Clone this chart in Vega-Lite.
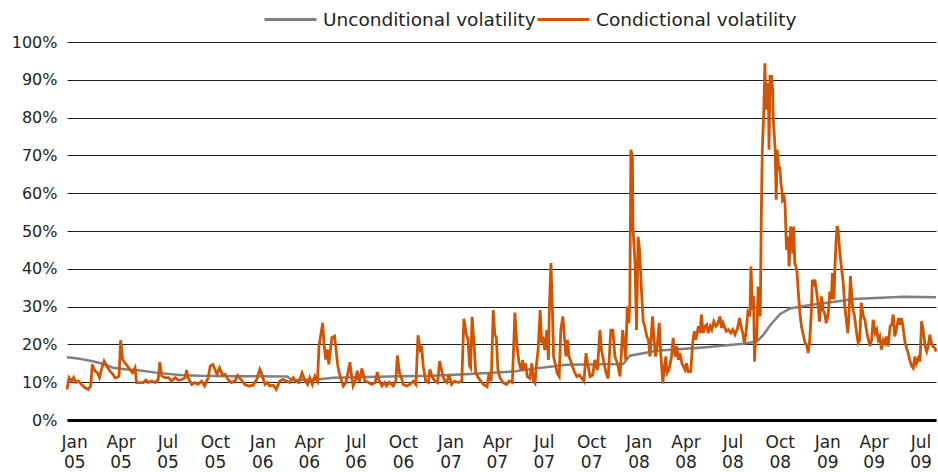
{
  "$schema": "https://vega.github.io/schema/vega-lite/v6.json",
  "width": 869,
  "height": 378,
  "autosize": {"type": "none"},
  "padding": {"left": 67, "top": 42, "right": 2, "bottom": 52},
  "background": "white",
  "config": {"view": {"stroke": null}, "font": "DejaVu Sans"},
  "datasets": {
    "uncond": [
      {"date": "2005-01-01", "vol": 16.6}, {"date": "2005-01-26", "vol": 16.2}, {"date": "2005-02-24", "vol": 15.4},
      {"date": "2005-03-16", "vol": 14.7}, {"date": "2005-03-31", "vol": 13.8}, {"date": "2005-04-24", "vol": 13.4},
      {"date": "2005-05-23", "vol": 13.1}, {"date": "2005-06-30", "vol": 12.4}, {"date": "2005-08-08", "vol": 11.9},
      {"date": "2005-09-16", "vol": 11.7}, {"date": "2005-11-19", "vol": 11.6}, {"date": "2006-03-04", "vol": 11.5},
      {"date": "2006-03-14", "vol": 10.6}, {"date": "2006-05-01", "vol": 10.7}, {"date": "2006-06-01", "vol": 11.2},
      {"date": "2006-08-06", "vol": 11.4}, {"date": "2006-10-09", "vol": 11.6}, {"date": "2006-12-12", "vol": 11.7},
      {"date": "2007-02-22", "vol": 12.2}, {"date": "2007-05-16", "vol": 12.8}, {"date": "2007-07-02", "vol": 13.7},
      {"date": "2007-08-29", "vol": 14.6}, {"date": "2007-12-16", "vol": 14.8}, {"date": "2007-12-29", "vol": 17.0},
      {"date": "2008-02-19", "vol": 18.3}, {"date": "2008-05-19", "vol": 19.2}, {"date": "2008-08-05", "vol": 20.2},
      {"date": "2008-09-01", "vol": 20.8}, {"date": "2008-09-13", "vol": 22.5}, {"date": "2008-09-26", "vol": 25.0},
      {"date": "2008-10-15", "vol": 28.0}, {"date": "2008-11-04", "vol": 29.5}, {"date": "2008-12-07", "vol": 30.3},
      {"date": "2009-01-15", "vol": 31.0}, {"date": "2009-02-09", "vol": 31.5}, {"date": "2009-03-06", "vol": 32.0},
      {"date": "2009-05-11", "vol": 32.4}, {"date": "2009-06-11", "vol": 32.6}, {"date": "2009-08-14", "vol": 32.5}
    ],
    "cond": [
      {"date": "2005-01-01", "vol": 8.1}, {"date": "2005-01-05", "vol": 11.2}, {"date": "2005-01-10", "vol": 10.3},
      {"date": "2005-01-14", "vol": 11.2}, {"date": "2005-01-18", "vol": 9.9}, {"date": "2005-01-23", "vol": 10.3},
      {"date": "2005-01-29", "vol": 9.4}, {"date": "2005-02-05", "vol": 8.5}, {"date": "2005-02-11", "vol": 8.1},
      {"date": "2005-02-16", "vol": 9.0}, {"date": "2005-02-19", "vol": 14.7}, {"date": "2005-02-24", "vol": 13.0},
      {"date": "2005-03-01", "vol": 12.5}, {"date": "2005-03-05", "vol": 11.2}, {"date": "2005-03-09", "vol": 13.4},
      {"date": "2005-03-14", "vol": 15.6}, {"date": "2005-03-19", "vol": 14.3}, {"date": "2005-03-25", "vol": 13.0},
      {"date": "2005-03-31", "vol": 12.1}, {"date": "2005-04-04", "vol": 11.2}, {"date": "2005-04-07", "vol": 11.2},
      {"date": "2005-04-12", "vol": 11.6}, {"date": "2005-04-15", "vol": 21.1}, {"date": "2005-04-19", "vol": 16.0},
      {"date": "2005-04-23", "vol": 15.2}, {"date": "2005-04-28", "vol": 14.3}, {"date": "2005-05-03", "vol": 13.4},
      {"date": "2005-05-08", "vol": 12.5}, {"date": "2005-05-13", "vol": 13.8}, {"date": "2005-05-16", "vol": 9.9},
      {"date": "2005-05-22", "vol": 9.9}, {"date": "2005-05-29", "vol": 9.9}, {"date": "2005-06-03", "vol": 10.6},
      {"date": "2005-06-08", "vol": 9.9}, {"date": "2005-06-14", "vol": 10.3}, {"date": "2005-06-21", "vol": 9.9},
      {"date": "2005-06-27", "vol": 10.7}, {"date": "2005-06-30", "vol": 15.3}, {"date": "2005-07-04", "vol": 11.6},
      {"date": "2005-07-10", "vol": 11.2}, {"date": "2005-07-17", "vol": 11.2}, {"date": "2005-07-23", "vol": 10.3},
      {"date": "2005-07-30", "vol": 11.2}, {"date": "2005-08-05", "vol": 10.5}, {"date": "2005-08-12", "vol": 10.7},
      {"date": "2005-08-18", "vol": 11.2}, {"date": "2005-08-21", "vol": 13.2}, {"date": "2005-08-24", "vol": 11.2},
      {"date": "2005-08-31", "vol": 9.4}, {"date": "2005-09-06", "vol": 9.9}, {"date": "2005-09-12", "vol": 9.4},
      {"date": "2005-09-19", "vol": 10.3}, {"date": "2005-09-25", "vol": 9.0}, {"date": "2005-10-02", "vol": 11.2},
      {"date": "2005-10-06", "vol": 14.3}, {"date": "2005-10-11", "vol": 14.7}, {"date": "2005-10-15", "vol": 13.4},
      {"date": "2005-10-19", "vol": 12.1}, {"date": "2005-10-24", "vol": 13.8}, {"date": "2005-10-30", "vol": 11.8},
      {"date": "2005-11-04", "vol": 12.1}, {"date": "2005-11-10", "vol": 10.6}, {"date": "2005-11-16", "vol": 9.9},
      {"date": "2005-11-23", "vol": 10.3}, {"date": "2005-11-28", "vol": 11.8}, {"date": "2005-12-05", "vol": 10.6},
      {"date": "2005-12-12", "vol": 9.4}, {"date": "2005-12-20", "vol": 9.0}, {"date": "2005-12-28", "vol": 9.2},
      {"date": "2006-01-04", "vol": 10.7}, {"date": "2006-01-10", "vol": 13.4}, {"date": "2006-01-14", "vol": 12.1},
      {"date": "2006-01-20", "vol": 9.4}, {"date": "2006-01-25", "vol": 9.9}, {"date": "2006-01-29", "vol": 9.0},
      {"date": "2006-02-05", "vol": 9.2}, {"date": "2006-02-11", "vol": 8.1}, {"date": "2006-02-18", "vol": 10.3},
      {"date": "2006-02-24", "vol": 10.7}, {"date": "2006-03-03", "vol": 10.3}, {"date": "2006-03-09", "vol": 9.9},
      {"date": "2006-03-16", "vol": 11.2}, {"date": "2006-03-20", "vol": 10.3}, {"date": "2006-03-27", "vol": 9.9},
      {"date": "2006-04-02", "vol": 12.5}, {"date": "2006-04-07", "vol": 10.7}, {"date": "2006-04-13", "vol": 9.4},
      {"date": "2006-04-17", "vol": 11.2}, {"date": "2006-04-22", "vol": 9.4}, {"date": "2006-04-27", "vol": 11.6},
      {"date": "2006-05-02", "vol": 10.3}, {"date": "2006-05-05", "vol": 19.6}, {"date": "2006-05-08", "vol": 22.2},
      {"date": "2006-05-12", "vol": 25.7}, {"date": "2006-05-15", "vol": 19.6}, {"date": "2006-05-18", "vol": 16.0},
      {"date": "2006-05-21", "vol": 18.7}, {"date": "2006-05-24", "vol": 14.7}, {"date": "2006-05-28", "vol": 19.6},
      {"date": "2006-05-30", "vol": 21.8}, {"date": "2006-06-04", "vol": 22.2}, {"date": "2006-06-07", "vol": 18.7},
      {"date": "2006-06-10", "vol": 14.7}, {"date": "2006-06-13", "vol": 12.5}, {"date": "2006-06-18", "vol": 10.3},
      {"date": "2006-06-21", "vol": 9.0}, {"date": "2006-06-26", "vol": 9.9}, {"date": "2006-06-30", "vol": 12.5},
      {"date": "2006-07-04", "vol": 15.3}, {"date": "2006-07-07", "vol": 11.6}, {"date": "2006-07-10", "vol": 9.0},
      {"date": "2006-07-15", "vol": 10.7}, {"date": "2006-07-18", "vol": 13.0}, {"date": "2006-07-22", "vol": 10.0},
      {"date": "2006-07-27", "vol": 13.6}, {"date": "2006-07-30", "vol": 12.1}, {"date": "2006-08-02", "vol": 10.3},
      {"date": "2006-08-09", "vol": 9.9}, {"date": "2006-08-15", "vol": 9.4}, {"date": "2006-08-22", "vol": 9.9},
      {"date": "2006-08-26", "vol": 12.7}, {"date": "2006-08-30", "vol": 10.3}, {"date": "2006-09-04", "vol": 9.0},
      {"date": "2006-09-09", "vol": 9.9}, {"date": "2006-09-13", "vol": 9.0}, {"date": "2006-09-18", "vol": 10.0},
      {"date": "2006-09-26", "vol": 9.0}, {"date": "2006-10-01", "vol": 10.3}, {"date": "2006-10-04", "vol": 17.1},
      {"date": "2006-10-08", "vol": 12.5}, {"date": "2006-10-12", "vol": 11.2}, {"date": "2006-10-15", "vol": 9.4},
      {"date": "2006-10-22", "vol": 9.0}, {"date": "2006-10-28", "vol": 9.4}, {"date": "2006-11-04", "vol": 10.3},
      {"date": "2006-11-09", "vol": 9.4}, {"date": "2006-11-13", "vol": 22.4}, {"date": "2006-11-17", "vol": 18.7},
      {"date": "2006-11-20", "vol": 19.6}, {"date": "2006-11-23", "vol": 14.3}, {"date": "2006-11-28", "vol": 10.3},
      {"date": "2006-12-03", "vol": 9.9}, {"date": "2006-12-06", "vol": 13.4}, {"date": "2006-12-11", "vol": 11.2},
      {"date": "2006-12-16", "vol": 10.3}, {"date": "2006-12-21", "vol": 9.9}, {"date": "2006-12-25", "vol": 15.6},
      {"date": "2006-12-31", "vol": 11.8}, {"date": "2007-01-04", "vol": 10.3}, {"date": "2007-01-08", "vol": 9.9},
      {"date": "2007-01-12", "vol": 12.1}, {"date": "2007-01-17", "vol": 9.4}, {"date": "2007-01-23", "vol": 10.3},
      {"date": "2007-01-30", "vol": 9.9}, {"date": "2007-02-06", "vol": 10.3}, {"date": "2007-02-10", "vol": 26.8},
      {"date": "2007-02-15", "vol": 22.6}, {"date": "2007-02-18", "vol": 21.3}, {"date": "2007-02-21", "vol": 14.3},
      {"date": "2007-02-23", "vol": 13.8}, {"date": "2007-02-26", "vol": 27.3}, {"date": "2007-03-02", "vol": 19.6},
      {"date": "2007-03-05", "vol": 12.5}, {"date": "2007-03-10", "vol": 11.2}, {"date": "2007-03-15", "vol": 10.3},
      {"date": "2007-03-20", "vol": 9.4}, {"date": "2007-03-27", "vol": 8.8}, {"date": "2007-03-31", "vol": 12.5},
      {"date": "2007-04-04", "vol": 10.3}, {"date": "2007-04-08", "vol": 29.1}, {"date": "2007-04-11", "vol": 22.6},
      {"date": "2007-04-14", "vol": 21.8}, {"date": "2007-04-17", "vol": 13.4}, {"date": "2007-04-21", "vol": 11.2},
      {"date": "2007-04-27", "vol": 9.9}, {"date": "2007-05-04", "vol": 9.4}, {"date": "2007-05-09", "vol": 10.3},
      {"date": "2007-05-15", "vol": 9.9}, {"date": "2007-05-20", "vol": 28.4}, {"date": "2007-05-24", "vol": 19.6},
      {"date": "2007-05-28", "vol": 15.2}, {"date": "2007-06-01", "vol": 13.2}, {"date": "2007-06-04", "vol": 15.9},
      {"date": "2007-06-06", "vol": 13.2}, {"date": "2007-06-10", "vol": 15.0}, {"date": "2007-06-13", "vol": 11.5},
      {"date": "2007-06-18", "vol": 11.0}, {"date": "2007-06-22", "vol": 15.0}, {"date": "2007-06-25", "vol": 10.2},
      {"date": "2007-06-28", "vol": 9.7}, {"date": "2007-07-01", "vol": 15.0}, {"date": "2007-07-04", "vol": 18.5},
      {"date": "2007-07-08", "vol": 29.1}, {"date": "2007-07-11", "vol": 20.3}, {"date": "2007-07-14", "vol": 21.2},
      {"date": "2007-07-17", "vol": 18.5}, {"date": "2007-07-21", "vol": 23.8}, {"date": "2007-07-24", "vol": 15.9},
      {"date": "2007-07-26", "vol": 30.0}, {"date": "2007-07-29", "vol": 41.5}, {"date": "2007-08-01", "vol": 28.2},
      {"date": "2007-08-03", "vol": 16.8}, {"date": "2007-08-06", "vol": 15.0}, {"date": "2007-08-10", "vol": 12.4},
      {"date": "2007-08-14", "vol": 11.5}, {"date": "2007-08-17", "vol": 23.8}, {"date": "2007-08-21", "vol": 27.4},
      {"date": "2007-08-24", "vol": 22.1}, {"date": "2007-08-27", "vol": 16.8}, {"date": "2007-08-30", "vol": 21.2},
      {"date": "2007-09-02", "vol": 16.8}, {"date": "2007-09-07", "vol": 15.0}, {"date": "2007-09-11", "vol": 13.2},
      {"date": "2007-09-17", "vol": 11.5}, {"date": "2007-09-22", "vol": 11.9}, {"date": "2007-09-27", "vol": 11.0},
      {"date": "2007-10-01", "vol": 10.2}, {"date": "2007-10-05", "vol": 17.7}, {"date": "2007-10-08", "vol": 15.0},
      {"date": "2007-10-13", "vol": 11.5}, {"date": "2007-10-18", "vol": 11.9}, {"date": "2007-10-22", "vol": 15.9},
      {"date": "2007-10-27", "vol": 13.2}, {"date": "2007-11-01", "vol": 23.8}, {"date": "2007-11-04", "vol": 18.5},
      {"date": "2007-11-09", "vol": 15.0}, {"date": "2007-11-13", "vol": 12.4}, {"date": "2007-11-17", "vol": 11.0},
      {"date": "2007-11-22", "vol": 23.8}, {"date": "2007-11-26", "vol": 23.8}, {"date": "2007-11-30", "vol": 16.8},
      {"date": "2007-12-05", "vol": 15.0}, {"date": "2007-12-10", "vol": 11.5}, {"date": "2007-12-15", "vol": 23.8},
      {"date": "2007-12-18", "vol": 20.3}, {"date": "2007-12-21", "vol": 15.9}, {"date": "2007-12-24", "vol": 30.0},
      {"date": "2007-12-27", "vol": 25.6}, {"date": "2007-12-29", "vol": 30.9}, {"date": "2007-12-31", "vol": 71.5},
      {"date": "2008-01-03", "vol": 69.7}, {"date": "2008-01-04", "vol": 51.2}, {"date": "2008-01-08", "vol": 41.5},
      {"date": "2008-01-11", "vol": 23.8}, {"date": "2008-01-14", "vol": 48.5}, {"date": "2008-01-17", "vol": 45.0},
      {"date": "2008-01-21", "vol": 33.0}, {"date": "2008-01-24", "vol": 26.0}, {"date": "2008-01-27", "vol": 24.8},
      {"date": "2008-01-31", "vol": 22.1}, {"date": "2008-02-03", "vol": 21.2}, {"date": "2008-02-06", "vol": 16.8},
      {"date": "2008-02-11", "vol": 27.4}, {"date": "2008-02-14", "vol": 21.2}, {"date": "2008-02-17", "vol": 16.8},
      {"date": "2008-02-20", "vol": 19.5}, {"date": "2008-02-24", "vol": 25.7}, {"date": "2008-02-27", "vol": 17.7},
      {"date": "2008-03-02", "vol": 9.7}, {"date": "2008-03-05", "vol": 14.2}, {"date": "2008-03-08", "vol": 16.8},
      {"date": "2008-03-10", "vol": 12.4}, {"date": "2008-03-14", "vol": 13.3}, {"date": "2008-03-19", "vol": 16.8},
      {"date": "2008-03-22", "vol": 21.7}, {"date": "2008-03-26", "vol": 16.8}, {"date": "2008-03-29", "vol": 19.5},
      {"date": "2008-04-01", "vol": 15.9}, {"date": "2008-04-04", "vol": 17.7}, {"date": "2008-04-08", "vol": 15.0},
      {"date": "2008-04-11", "vol": 14.2}, {"date": "2008-04-14", "vol": 13.3}, {"date": "2008-04-17", "vol": 15.0},
      {"date": "2008-04-20", "vol": 12.8}, {"date": "2008-04-25", "vol": 12.8}, {"date": "2008-04-29", "vol": 20.4},
      {"date": "2008-05-02", "vol": 23.5}, {"date": "2008-05-05", "vol": 21.2}, {"date": "2008-05-10", "vol": 24.8},
      {"date": "2008-05-13", "vol": 23.0}, {"date": "2008-05-16", "vol": 27.9}, {"date": "2008-05-19", "vol": 23.0},
      {"date": "2008-05-23", "vol": 24.8}, {"date": "2008-05-26", "vol": 25.2}, {"date": "2008-05-29", "vol": 23.0},
      {"date": "2008-06-02", "vol": 24.8}, {"date": "2008-06-05", "vol": 23.9}, {"date": "2008-06-09", "vol": 26.1},
      {"date": "2008-06-13", "vol": 24.8}, {"date": "2008-06-16", "vol": 25.2}, {"date": "2008-06-21", "vol": 27.4},
      {"date": "2008-06-24", "vol": 24.3}, {"date": "2008-06-27", "vol": 25.7}, {"date": "2008-07-03", "vol": 23.5},
      {"date": "2008-07-07", "vol": 23.9}, {"date": "2008-07-12", "vol": 23.0}, {"date": "2008-07-16", "vol": 23.9},
      {"date": "2008-07-20", "vol": 22.6}, {"date": "2008-07-25", "vol": 24.3}, {"date": "2008-07-29", "vol": 27.0},
      {"date": "2008-08-01", "vol": 24.8}, {"date": "2008-08-04", "vol": 23.0}, {"date": "2008-08-07", "vol": 20.4},
      {"date": "2008-08-10", "vol": 22.6}, {"date": "2008-08-14", "vol": 28.5}, {"date": "2008-08-18", "vol": 27.4},
      {"date": "2008-08-20", "vol": 40.6}, {"date": "2008-08-23", "vol": 29.1}, {"date": "2008-08-25", "vol": 32.7},
      {"date": "2008-08-27", "vol": 15.4}, {"date": "2008-08-29", "vol": 22.1}, {"date": "2008-08-31", "vol": 21.2},
      {"date": "2008-09-03", "vol": 35.3}, {"date": "2008-09-05", "vol": 34.4}, {"date": "2008-09-07", "vol": 27.4},
      {"date": "2008-09-09", "vol": 53.8}, {"date": "2008-09-11", "vol": 71.5}, {"date": "2008-09-14", "vol": 82.1},
      {"date": "2008-09-16", "vol": 94.4}, {"date": "2008-09-18", "vol": 82.1}, {"date": "2008-09-20", "vol": 89.1},
      {"date": "2008-09-23", "vol": 85.6}, {"date": "2008-09-24", "vol": 71.5}, {"date": "2008-09-26", "vol": 90.9},
      {"date": "2008-09-29", "vol": 90.9}, {"date": "2008-10-01", "vol": 87.4}, {"date": "2008-10-02", "vol": 80.3},
      {"date": "2008-10-04", "vol": 75.9}, {"date": "2008-10-06", "vol": 71.5}, {"date": "2008-10-08", "vol": 58.3},
      {"date": "2008-10-10", "vol": 71.5}, {"date": "2008-10-13", "vol": 66.2}, {"date": "2008-10-15", "vol": 67.1},
      {"date": "2008-10-17", "vol": 62.7}, {"date": "2008-10-19", "vol": 60.9}, {"date": "2008-10-20", "vol": 58.3},
      {"date": "2008-10-23", "vol": 59.1}, {"date": "2008-10-25", "vol": 57.4}, {"date": "2008-10-28", "vol": 45.0},
      {"date": "2008-10-31", "vol": 48.5}, {"date": "2008-11-02", "vol": 40.6}, {"date": "2008-11-05", "vol": 51.2},
      {"date": "2008-11-07", "vol": 48.5}, {"date": "2008-11-09", "vol": 44.1}, {"date": "2008-11-11", "vol": 51.2},
      {"date": "2008-11-13", "vol": 41.5}, {"date": "2008-11-17", "vol": 39.7}, {"date": "2008-11-20", "vol": 33.5},
      {"date": "2008-11-23", "vol": 28.2}, {"date": "2008-11-26", "vol": 24.7}, {"date": "2008-11-29", "vol": 22.9},
      {"date": "2008-12-03", "vol": 20.3}, {"date": "2008-12-06", "vol": 19.9}, {"date": "2008-12-09", "vol": 17.7},
      {"date": "2008-12-12", "vol": 21.2}, {"date": "2008-12-15", "vol": 28.2}, {"date": "2008-12-17", "vol": 37.1},
      {"date": "2008-12-20", "vol": 36.2}, {"date": "2008-12-22", "vol": 37.1}, {"date": "2008-12-25", "vol": 34.4},
      {"date": "2008-12-28", "vol": 30.9}, {"date": "2008-12-31", "vol": 26.0}, {"date": "2009-01-04", "vol": 32.7},
      {"date": "2009-01-07", "vol": 29.1}, {"date": "2009-01-10", "vol": 28.2}, {"date": "2009-01-13", "vol": 25.6},
      {"date": "2009-01-17", "vol": 28.2}, {"date": "2009-01-20", "vol": 34.0}, {"date": "2009-01-23", "vol": 31.9},
      {"date": "2009-01-25", "vol": 38.9}, {"date": "2009-01-28", "vol": 31.9}, {"date": "2009-01-30", "vol": 40.7},
      {"date": "2009-02-01", "vol": 46.9}, {"date": "2009-02-03", "vol": 51.3}, {"date": "2009-02-05", "vol": 50.4},
      {"date": "2009-02-08", "vol": 45.1}, {"date": "2009-02-12", "vol": 39.8}, {"date": "2009-02-15", "vol": 36.3},
      {"date": "2009-02-18", "vol": 30.1}, {"date": "2009-02-21", "vol": 26.5}, {"date": "2009-02-24", "vol": 23.0},
      {"date": "2009-02-26", "vol": 27.4}, {"date": "2009-03-01", "vol": 38.1}, {"date": "2009-03-04", "vol": 31.9},
      {"date": "2009-03-06", "vol": 29.2}, {"date": "2009-03-09", "vol": 27.4}, {"date": "2009-03-13", "vol": 23.0},
      {"date": "2009-03-16", "vol": 20.4}, {"date": "2009-03-19", "vol": 21.2}, {"date": "2009-03-22", "vol": 31.0},
      {"date": "2009-03-26", "vol": 27.4}, {"date": "2009-03-29", "vol": 26.5}, {"date": "2009-04-02", "vol": 23.0},
      {"date": "2009-04-05", "vol": 21.2}, {"date": "2009-04-08", "vol": 19.5}, {"date": "2009-04-11", "vol": 21.2},
      {"date": "2009-04-14", "vol": 26.5}, {"date": "2009-04-18", "vol": 23.0}, {"date": "2009-04-21", "vol": 23.9},
      {"date": "2009-04-24", "vol": 21.2}, {"date": "2009-04-27", "vol": 22.1}, {"date": "2009-04-30", "vol": 18.6},
      {"date": "2009-05-04", "vol": 21.2}, {"date": "2009-05-07", "vol": 20.4}, {"date": "2009-05-10", "vol": 22.1},
      {"date": "2009-05-13", "vol": 19.5}, {"date": "2009-05-17", "vol": 24.8}, {"date": "2009-05-20", "vol": 25.2},
      {"date": "2009-05-23", "vol": 27.9}, {"date": "2009-05-26", "vol": 22.1}, {"date": "2009-05-29", "vol": 23.9},
      {"date": "2009-06-02", "vol": 27.0}, {"date": "2009-06-05", "vol": 25.2}, {"date": "2009-06-08", "vol": 27.0},
      {"date": "2009-06-11", "vol": 24.8}, {"date": "2009-06-15", "vol": 20.4}, {"date": "2009-06-18", "vol": 19.0},
      {"date": "2009-06-21", "vol": 17.7}, {"date": "2009-06-24", "vol": 15.9}, {"date": "2009-06-28", "vol": 14.2},
      {"date": "2009-07-01", "vol": 13.7}, {"date": "2009-07-04", "vol": 16.8}, {"date": "2009-07-07", "vol": 15.0},
      {"date": "2009-07-11", "vol": 16.4}, {"date": "2009-07-14", "vol": 15.5}, {"date": "2009-07-17", "vol": 26.1},
      {"date": "2009-07-20", "vol": 23.9}, {"date": "2009-07-24", "vol": 19.5}, {"date": "2009-07-27", "vol": 18.1},
      {"date": "2009-07-30", "vol": 19.5}, {"date": "2009-08-02", "vol": 22.6}, {"date": "2009-08-05", "vol": 20.4},
      {"date": "2009-08-08", "vol": 19.5}, {"date": "2009-08-12", "vol": 19.0}, {"date": "2009-08-14", "vol": 18.1}
    ]
  },
  "encoding": {
    "x": {
      "field": "date",
      "type": "temporal",
      "scale": {
        "type": "utc",
        "domain": [
          {"year": 2005, "month": 1, "date": 1, "utc": true},
          {"year": 2009, "month": 8, "date": 14, "utc": true}
        ]
      },
      "axis": {
        "title": null,
        "values": [
          {"year": 2005, "month": 1, "date": 15, "utc": true}, {"year": 2005, "month": 4, "date": 15, "utc": true},
          {"year": 2005, "month": 7, "date": 15, "utc": true}, {"year": 2005, "month": 10, "date": 15, "utc": true},
          {"year": 2006, "month": 1, "date": 15, "utc": true}, {"year": 2006, "month": 4, "date": 15, "utc": true},
          {"year": 2006, "month": 7, "date": 15, "utc": true}, {"year": 2006, "month": 10, "date": 15, "utc": true},
          {"year": 2007, "month": 1, "date": 15, "utc": true}, {"year": 2007, "month": 4, "date": 15, "utc": true},
          {"year": 2007, "month": 7, "date": 15, "utc": true}, {"year": 2007, "month": 10, "date": 15, "utc": true},
          {"year": 2008, "month": 1, "date": 15, "utc": true}, {"year": 2008, "month": 4, "date": 15, "utc": true},
          {"year": 2008, "month": 7, "date": 15, "utc": true}, {"year": 2008, "month": 10, "date": 15, "utc": true},
          {"year": 2009, "month": 1, "date": 15, "utc": true}, {"year": 2009, "month": 4, "date": 15, "utc": true},
          {"year": 2009, "month": 7, "date": 15, "utc": true}
        ],
        "labelExpr": "[utcFormat(datum.value, '%b'), utcFormat(datum.value, '%y')]",
        "domain": true,
        "domainColor": "#000000",
        "domainWidth": 3,
        "ticks": false,
        "grid": false,
        "labelFont": "DejaVu Sans",
        "labelFontSize": 17,
        "labelLineHeight": 20,
        "labelPadding": 14,
        "labelColor": "#231f20",
        "labelOverlap": false,
        "labelFlush": false,
        "labelBound": false
      }
    },
    "y": {
      "field": "vol",
      "type": "quantitative",
      "scale": {"domain": [0, 100], "nice": false},
      "axis": {
        "title": null,
        "values": [0, 10, 20, 30, 40, 50, 60, 70, 80, 90, 100],
        "labelExpr": "datum.value + '%'",
        "domain": false,
        "ticks": false,
        "grid": true,
        "gridColor": "#231f20",
        "gridWidth": 1,
        "labelFont": "DejaVu Sans",
        "labelFontSize": 16,
        "labelColor": "#231f20",
        "labelPadding": 10
      }
    }
  },
  "layer": [
    {
      "data": {"name": "uncond"},
      "mark": {"type": "line", "strokeWidth": 2.5},
      "encoding": {
        "color": {
          "datum": "Unconditional volatility",
          "type": "nominal",
          "scale": {
            "domain": ["Unconditional volatility", "Condictional volatility"],
            "range": ["#808080", "#d35400"]
          },
          "legend": {
            "title": null,
            "orient": "none",
            "direction": "horizontal",
            "legendX": 196,
            "legendY": -50,
            "symbolType": "stroke",
            "symbolSize": 2704,
            "symbolStrokeWidth": 3,
            "labelFont": "DejaVu Sans",
            "labelFontSize": 18.5,
            "labelColor": "#231f20",
            "labelLimit": 400,
            "labelOffset": 5,
            "columnPadding": -8
          }
        }
      }
    },
    {
      "data": {"name": "cond"},
      "mark": {"type": "line", "strokeWidth": 2.8},
      "encoding": {
        "color": {"datum": "Condictional volatility", "type": "nominal"}
      }
    }
  ]
}
